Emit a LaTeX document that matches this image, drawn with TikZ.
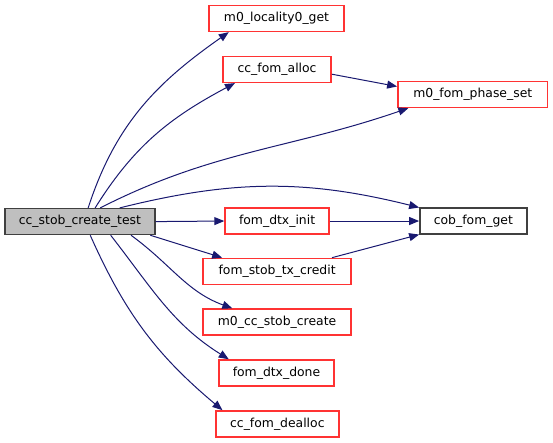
\documentclass[tikz,border=0pt]{standalone}
\usepackage{fontspec}
\setmainfont{DejaVu Sans}
\usetikzlibrary{arrows.meta}
\definecolor{nodered}{HTML}{FF3333}
\definecolor{edgeblue}{HTML}{191970}

\begin{document}
\begin{tikzpicture}[>={Triangle[length=3.5mm, width=2.8mm]}, line width=1pt,
  fn/.style={draw=nodered, fill=white, line width=1.5pt, minimum height=0.91cm,
    inner sep=0pt, font=\fontsize{12.4}{14}\selectfont},
  cur/.style={fn, draw=black!75, fill=black!25},
  leaf/.style={fn, draw=black!75},
  call/.style={->, draw=edgeblue}]
  \useasboundingbox (0,0) rectangle (19.44,15.57);
  % funcion raiz
  \node[cur, minimum width=5.27cm] (test) at (2.81,7.78) {cc\_stob\_create\_test};
  % llamadas directas
  \node[fn, minimum width=4.74cm] (loc) at (9.72,14.92) {m0\_locality0\_get};
  \node[fn, minimum width=3.80cm] (alloc) at (9.74,13.13) {cc\_fom\_alloc};
  \node[fn, minimum width=3.66cm] (init) at (9.74,7.80) {fom\_dtx\_init};
  \node[fn, minimum width=5.20cm] (credit) at (9.74,6.03) {fom\_stob\_tx\_credit};
  \node[fn, minimum width=5.20cm] (create) at (9.74,4.25) {m0\_cc\_stob\_create};
  \node[fn, minimum width=4.04cm] (done) at (9.72,2.46) {fom\_dtx\_done};
  \node[fn, minimum width=4.32cm] (dealloc) at (9.75,0.67) {cc\_fom\_dealloc};
  % segundo nivel
  \node[fn, minimum width=5.27cm] (phase) at (16.62,12.25) {m0\_fom\_phase\_set};
  \node[leaf, minimum width=3.76cm] (cob) at (16.64,7.80) {cob\_fom\_get};
  % aristas desde la raiz
  \draw[call] (test.59) to[out=72, in=215] (loc.196);
  \draw[call] (test.42) to[out=58, in=208] (alloc.198);
  \draw[call] (test.34) to[out=27, in=199] (phase.192);
  \draw[call] (test.19) to[out=14, in=166] (cob.166);
  \draw[call] (test.east) -- (init.west);
  \draw[call] (test.-11) -- (credit.166);
  \draw[call] (test.-15) to[out=-36, in=160] (create.163);
  \draw[call] (test.-24) to[out=-52, in=148] (done.164);
  \draw[call] (test.-53) to[out=-66, in=140] (dealloc.166);
  % aristas internas
  \draw[call] (alloc.-5) -- (phase.174);
  \draw[call] (init.east) -- (cob.west);
  \draw[call] (credit.14) -- (cob.194);
\end{tikzpicture}
\end{document}
